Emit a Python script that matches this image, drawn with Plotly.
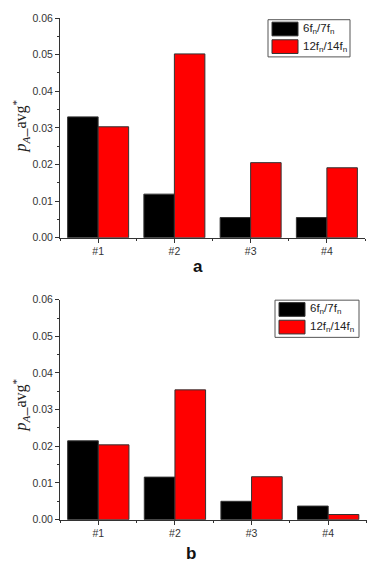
import plotly.graph_objects as go

categories = ["#1", "#2", "#3", "#4"]
series_names = ["6f<sub>n</sub>/7f<sub>n</sub>", "12f<sub>n</sub>/14f<sub>n</sub>"]
a_6f7f = [0.0330, 0.0119, 0.0055, 0.0055]
a_12f14f = [0.0303, 0.0502, 0.0205, 0.0191]
b_6f7f = [0.0215, 0.0116, 0.0050, 0.0037]
b_12f14f = [0.0204, 0.0354, 0.0117, 0.0014]
y_ticks = [0.00, 0.01, 0.02, 0.03, 0.04, 0.05, 0.06]
panel_labels = ["a", "b"]
colors = ["#000000", "#ff0000"]

W, H = 374, 569
fig = go.Figure()

cat_pos = list(range(len(categories)))

panels = [
    (a_6f7f, a_12f14f, "x", "y"),
    (b_6f7f, b_12f14f, "x2", "y2"),
]
for vals6, vals12, xa, ya in panels:
    for name, vals, col in zip(series_names, [vals6, vals12], colors):
        fig.add_trace(go.Bar(
            x=cat_pos, y=vals, name=name, xaxis=xa, yaxis=ya,
            marker=dict(color=col, line=dict(color="#333333", width=1)),
            showlegend=False, hoverinfo="y",
        ))

def px_x(p):
    return p / W

def px_y(p):
    return 1 - p / H

axis_font = dict(family="Liberation Sans, Arial", size=10.5, color="#333333")
xcommon = dict(
    showline=True, linecolor="#333333", linewidth=1, ticks="outside", ticklen=4,
    tickcolor="#333333", tickfont=axis_font, showgrid=False, zeroline=False,
    range=[-0.5, 3.5], tickvals=cat_pos, ticktext=categories,
    minor=dict(ticks="outside", ticklen=2, tickcolor="#333333", tick0=0.5, dtick=1),
)
ycommon = dict(
    showline=True, linecolor="#333333", linewidth=1, ticks="outside", ticklen=4,
    tickcolor="#333333", tickfont=axis_font, showgrid=False, range=[0, 0.06],
    tickvals=y_ticks, tickformat=".2f", zeroline=False,
    minor=dict(ticks="outside", ticklen=2, tickcolor="#333333", dtick=0.005),
)

fig.update_layout(
    width=W, height=H, margin=dict(l=0, r=0, t=0, b=0),
    paper_bgcolor="white", plot_bgcolor="white",
    barmode="group", bargap=0.2, bargroupgap=0,
    xaxis=dict(domain=[px_x(60), px_x(365)], anchor="y", **xcommon),
    yaxis=dict(domain=[px_y(236.7), px_y(12.3)], anchor="x", **ycommon),
    xaxis2=dict(domain=[px_x(60), px_x(366.5)], anchor="y2", **xcommon),
    yaxis2=dict(domain=[px_y(524.7), px_y(300)], anchor="x2", **ycommon),
)

# legends (manual, in pixel positions converted to paper coords)
legend_boxes = [(268, 14, 350, 52), (275, 300.5, 359, 338.5)]
shapes = []
annotations = []
for (x0, y0, x1, y1) in legend_boxes:
    shapes.append(dict(type="rect", xref="paper", yref="paper",
                       x0=px_x(x0), x1=px_x(x1), y0=px_y(y1), y1=px_y(y0),
                       line=dict(color="#555555", width=1), fillcolor="white"))
    rows = [(y0 + 2.5, y0 + 16.5), (y0 + 20.5, y0 + 34.5)]
    for (ry0, ry1), col, name in zip(rows, colors, series_names):
        shapes.append(dict(type="rect", xref="paper", yref="paper",
                           x0=px_x(x0 + 4), x1=px_x(x0 + 30),
                           y0=px_y(ry1), y1=px_y(ry0),
                           line=dict(color="#333333", width=1), fillcolor=col))
        annotations.append(dict(xref="paper", yref="paper",
                                x=px_x(x0 + 33), y=px_y((ry0 + ry1) / 2),
                                text=name, showarrow=False, xanchor="left", yanchor="middle",
                                font=dict(family="Liberation Sans, Arial", size=11.5, color="#222222")))

# y titles
ytitle = "<i>p</i><sub><i>A</i></sub>_avg<sup>*</sup>"
for yc in [123, 408]:
    annotations.append(dict(xref="paper", yref="paper", x=px_x(21), y=px_y(yc),
                            text=ytitle, showarrow=False, textangle=-90,
                            xanchor="center", yanchor="middle",
                            font=dict(family="Liberation Serif, Times New Roman", size=16, color="#222222")))

# panel labels
for lab, (xc, yc) in zip(panel_labels, [(198, 266), (191, 559)]):
    annotations.append(dict(xref="paper", yref="paper", x=px_x(xc), y=px_y(yc),
                            text="<b>%s</b>" % lab, showarrow=False,
                            xanchor="center", yanchor="middle",
                            font=dict(family="Liberation Sans, Arial", size=17, color="#111111")))

fig.update_layout(shapes=shapes, annotations=annotations)
fig.write_html("out.html", config={"displayModeBar": False},
               post_script="document.body.style.margin='0px';document.body.style.overflow='hidden';")
